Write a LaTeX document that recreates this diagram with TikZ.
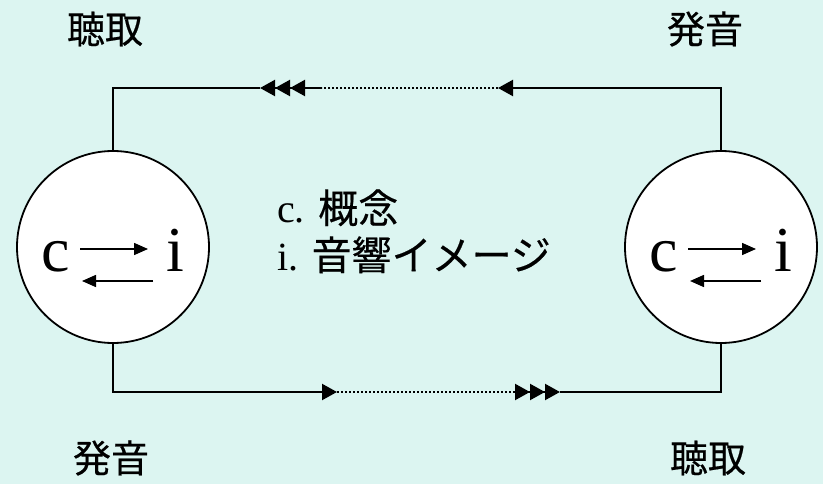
\documentclass[tikz,border=0pt]{standalone}
\usepackage{fontspec}
\setmainfont{Liberation Serif}
\newfontfamily\jp[FakeBold=0.4]{Noto Sans CJK JP}
\usetikzlibrary{arrows.meta,calc}
\definecolor{bgcyan}{RGB}{220,245,241}

\begin{document}
\begin{tikzpicture}[x=1pt,y=-1pt,
  circ/.style={circle,draw,fill=white,line width=1.8pt,minimum size=192pt,inner sep=0pt},
  conn/.style={line width=2.2pt},
  dots/.style={line width=1.5pt,dash pattern=on 2pt off 2pt},
  tip/.style={-{Triangle[length=15pt,width=16pt]}},
  tips/.style={-{Triangle[length=15pt,width=16pt,sep=0pt] Triangle[length=15pt,width=16pt,sep=0pt] Triangle[length=15pt,width=16pt]}},
  small/.style={-{Triangle[length=14pt,width=12pt]},line width=1.6pt},
  lbl/.style={font=\jp\fontsize{38}{44}\selectfont},
  big/.style={font=\fontsize{64}{70}\selectfont,anchor=base,inner sep=0pt},
  txt/.style={font=\fontsize{40}{46}\selectfont,anchor=base west,inner sep=0pt}]
  \fill [bgcyan] (0,0) rectangle (823,484);
  \useasboundingbox (0,0) rectangle (823,484);

  \node [circ] (lc) at (113,247) {};
  \node [circ] (rc) at (721,247) {};
  \foreach \n in {lc,rc} {
    \node [big] (\n c) at ($(\n)+(-57,25)$) {c};
    \node [big] (\n i) at ($(\n)+(62,25)$) {i};
    \draw [small] ($(\n)+(-33,2)$) -- ($(\n)+(35,2)$);
    \draw [small] ($(\n)+(40,34)$) -- ($(\n)+(-31,34)$);
  }

  % top: right to left
  \coordinate (ta1) at (498,88);
  \coordinate (ta2) at (322,88);
  \coordinate (ta3) at (260,88);
  \draw [conn,tip] (rc.north) |- (ta1);
  \draw [dots] (ta1) -- (ta2);
  \draw [conn,tips] (ta2) -- (ta3);
  \draw [conn] (ta3) -| (lc.north);

  % bottom: left to right
  \coordinate (ba1) at (337,392);
  \coordinate (ba2) at (513,392);
  \coordinate (ba3) at (560,392);
  \draw [conn,tip] (lc.south) |- (ba1);
  \draw [dots] (ba1) -- (ba2);
  \draw [conn,tips] (ba2) -- (ba3);
  \draw [conn] (ba3) -| (rc.south);

  \node [lbl] (hearL) at (105,29) {聴取};
  \node [lbl] (speakR) at (705,29) {発音};
  \node [lbl] (speakL) at (111,458) {発音};
  \node [lbl] (hearR) at (708,458) {聴取};

  \node [txt] (concept) at (277,223) {c. {\jp 概念}};
  \node [txt] (image) at (277,270) {i. {\jp 音響イメージ}};
\end{tikzpicture}
\end{document}
